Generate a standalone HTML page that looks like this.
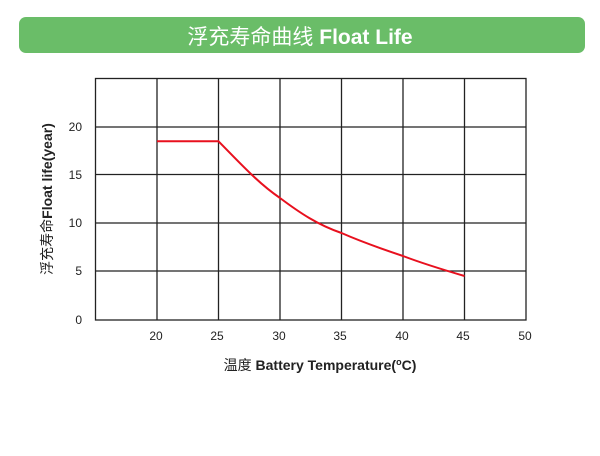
<!DOCTYPE html>
<html><head><meta charset="utf-8"><style>
body{margin:0;width:600px;height:451px;background:#fff;overflow:hidden}
</style></head><body>
<svg width="600" height="451" xmlns="http://www.w3.org/2000/svg" font-family="Liberation Sans, Noto Sans CJK SC, sans-serif">
<rect x="19" y="17" width="566" height="36" rx="7" fill="#6abd68"/>
<text x="300" y="44" text-anchor="middle" font-size="21" fill="#fff"><tspan>浮充寿命曲线 </tspan><tspan font-weight="bold">Float Life</tspan></text>
<g stroke="#222" stroke-width="1.3" fill="none">
<rect x="95.5" y="78.5" width="430.5" height="241.5"/>
<line x1="157" y1="78.5" x2="157" y2="320"/>
<line x1="218.5" y1="78.5" x2="218.5" y2="320"/>
<line x1="280" y1="78.5" x2="280" y2="320"/>
<line x1="341.5" y1="78.5" x2="341.5" y2="320"/>
<line x1="403" y1="78.5" x2="403" y2="320"/>
<line x1="464.5" y1="78.5" x2="464.5" y2="320"/>
<line x1="95.5" y1="127" x2="526" y2="127"/>
<line x1="95.5" y1="174.5" x2="526" y2="174.5"/>
<line x1="95.5" y1="223" x2="526" y2="223"/>
<line x1="95.5" y1="271" x2="526" y2="271"/>
</g>
<path d="M157 141.3 L218.5 141.3 C240 163 258 183 280 198 C300 213 318 225 341.5 233 C362 242 382 249 403 256 C424 264 444 270 464.5 276" stroke="#e8101e" stroke-width="2" fill="none"/>
<g font-size="12" fill="#222" text-anchor="end">
<text x="82" y="131">20</text><text x="82" y="179">15</text><text x="82" y="227">10</text><text x="82" y="275">5</text><text x="82" y="324">0</text>
</g>
<g font-size="12" fill="#222" text-anchor="middle">
<text x="156" y="340">20</text><text x="217" y="340">25</text><text x="279" y="340">30</text><text x="340" y="340">35</text><text x="402" y="340">40</text><text x="463" y="340">45</text><text x="525" y="340">50</text>
</g>
<text transform="translate(52,199) rotate(-90)" text-anchor="middle" font-size="14" fill="#222"><tspan>浮充寿命</tspan><tspan font-weight="bold">Float life(year)</tspan></text>
<text x="320" y="370" text-anchor="middle" font-size="14" fill="#222"><tspan>温度 </tspan><tspan font-weight="bold">Battery Temperature(</tspan><tspan font-size="9" dy="-5" font-weight="bold">o</tspan><tspan dy="5" font-weight="bold">C)</tspan></text>
</svg>
</body></html>
